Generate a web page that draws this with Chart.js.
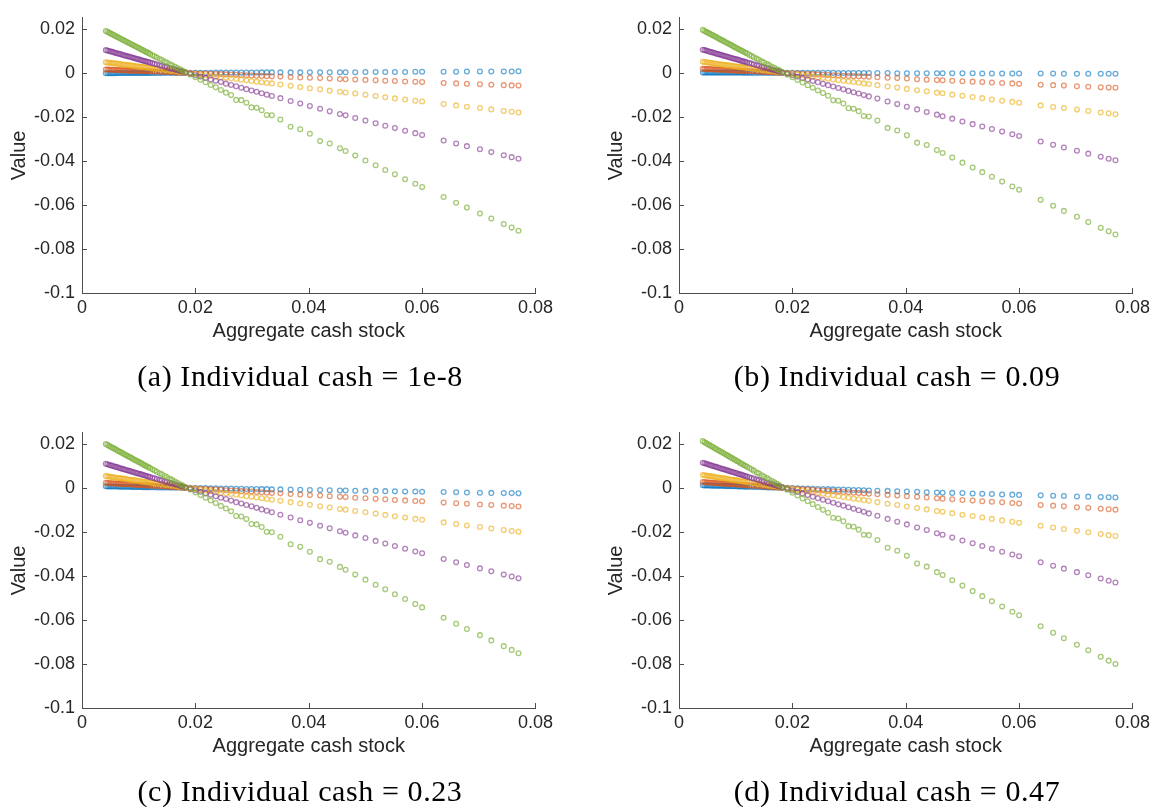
<!DOCTYPE html>
<html>
<head>
<meta charset="utf-8">
<script src="https://cdn.jsdelivr.net/npm/chart.js@4.4.1/dist/chart.umd.min.js"></script>
<style>
  html, body { margin: 0; padding: 0; background: #fff; overflow: hidden; }
  #page { position: relative; width: 1154px; height: 807px; }
  canvas { position: absolute; }
  .caption {
    position: absolute; width: 500px; text-align: center; white-space: nowrap;
    font: 30px/30px "Liberation Serif", "Times New Roman", serif; letter-spacing: 0.6px; color: #000;
  }
</style>
</head>
<body>
<div id="page">
  <canvas id="chartA" width="557" height="360" style="left:0;top:0"></canvas>
  <canvas id="chartB" width="557" height="360" style="left:597px;top:0"></canvas>
  <canvas id="chartC" width="557" height="360" style="left:0;top:415px"></canvas>
  <canvas id="chartD" width="557" height="360" style="left:597px;top:415px"></canvas>
  <div class="caption" style="left:50px;top:361px">(a) Individual cash = 1e-8</div>
  <div class="caption" style="left:647px;top:361px">(b) Individual cash = 0.09</div>
  <div class="caption" style="left:50px;top:776px">(c) Individual cash = 0.23</div>
  <div class="caption" style="left:647px;top:776px">(d) Individual cash = 0.47</div>
</div>
<script>
// aggregate cash stock grid (same for every panel)
const cashStock = [
  0.0042, 0.0045, 0.0048, 0.0051, 0.0054, 0.0057, 0.0060, 0.0063, 0.0066, 0.0069, 0.0072, 0.0075, 0.0078, 0.0081,
  0.0084, 0.0087, 0.0090, 0.0093, 0.0096, 0.0099, 0.0102, 0.0105, 0.0108, 0.0111, 0.0114, 0.0117, 0.0120, 0.0124,
  0.0128, 0.0132, 0.0137, 0.0141, 0.0146, 0.0150, 0.0155, 0.0159, 0.0164, 0.0168, 0.0173, 0.0177,
  0.0182, 0.0191, 0.0200, 0.0209, 0.0218, 0.0227, 0.0236, 0.0245,
  0.0254, 0.0263, 0.0272, 0.0281, 0.0290, 0.0299, 0.0308, 0.0317, 0.0326, 0.0335,
  0.0350, 0.0368, 0.0385, 0.0402, 0.0420, 0.0437, 0.0455, 0.0465, 0.0482, 0.0500, 0.0518, 0.0535, 0.0552, 0.0570, 0.0588, 0.0600,
  0.0638, 0.0660, 0.0679, 0.0702, 0.0722, 0.0744, 0.0758, 0.0770
];

const xTicks = [0, 0.02, 0.04, 0.06, 0.08];
const xTickLabels = ['0', '0.02', '0.04', '0.06', '0.08'];
const yTicks = [-0.1, -0.08, -0.06, -0.04, -0.02, 0, 0.02];
const yTickLabels = ['-0.1', '-0.08', '-0.06', '-0.04', '-0.02', '0', '0.02'];

// (a) individual cash = 1e-8
const blueA = [
  -0.0002, -0.0002, -0.0002, -0.0002, -0.0002, -0.0002, -0.0002, -0.0001, -0.0001, -0.0001, -0.0001, -0.0001, -0.0001, -0.0001,
  -0.0001, -0.0001, -0.0001, -0.0001, -0.0001, -0.0001, -0.0001, -0.0001, -0.0001, -0.0001, -0.0001, -0.0001, -0.0001, -0.0001,
  -0.0001, -0.0001, -0.0001, -0.0001, 0.0000, 0.0000, 0.0000, 0.0000, 0.0000, 0.0000, 0.0000, 0.0000,
  0.0000, 0.0000, 0.0000, 0.0000, 0.0000, 0.0000, 0.0001, 0.0001,
  0.0001, 0.0001, 0.0001, 0.0001, 0.0001, 0.0001, 0.0001, 0.0002, 0.0002, 0.0002,
  0.0002, 0.0002, 0.0002, 0.0003, 0.0003, 0.0003, 0.0003, 0.0003, 0.0003, 0.0004, 0.0004, 0.0004, 0.0004, 0.0004, 0.0005, 0.0005,
  0.0005, 0.0005, 0.0006, 0.0006, 0.0006, 0.0006, 0.0006, 0.0007
];
const orangeA = [
  0.0015, 0.0015, 0.0015, 0.0014, 0.0014, 0.0014, 0.0013, 0.0013, 0.0013, 0.0012, 0.0012, 0.0012, 0.0011, 0.0011,
  0.0011, 0.0010, 0.0010, 0.0010, 0.0010, 0.0009, 0.0009, 0.0009, 0.0008, 0.0008, 0.0008, 0.0007, 0.0007, 0.0007,
  0.0006, 0.0006, 0.0005, 0.0005, 0.0004, 0.0004, 0.0003, 0.0003, 0.0002, 0.0002, 0.0001, 0.0001,
  0.0000, -0.0001, -0.0002, -0.0003, -0.0003, -0.0004, -0.0005, -0.0006,
  -0.0007, -0.0008, -0.0009, -0.0010, -0.0011, -0.0012, -0.0013, -0.0014, -0.0015, -0.0016,
  -0.0017, -0.0019, -0.0021, -0.0022, -0.0024, -0.0026, -0.0028, -0.0029, -0.0030, -0.0032, -0.0034, -0.0036, -0.0037, -0.0039, -0.0041, -0.0042,
  -0.0046, -0.0048, -0.0050, -0.0052, -0.0054, -0.0056, -0.0057, -0.0058
];
const yellowA = [
  0.0048, 0.0047, 0.0046, 0.0045, 0.0044, 0.0043, 0.0042, 0.0041, 0.0040, 0.0039, 0.0038, 0.0037, 0.0036, 0.0035,
  0.0034, 0.0033, 0.0032, 0.0031, 0.0030, 0.0029, 0.0028, 0.0027, 0.0026, 0.0025, 0.0024, 0.0023, 0.0022, 0.0020,
  0.0019, 0.0018, 0.0016, 0.0015, 0.0013, 0.0012, 0.0010, 0.0009, 0.0007, 0.0006, 0.0004, 0.0003,
  0.0001, -0.0002, -0.0005, -0.0008, -0.0011, -0.0014, -0.0017, -0.0020,
  -0.0022, -0.0025, -0.0028, -0.0031, -0.0034, -0.0037, -0.0040, -0.0043, -0.0046, -0.0048,
  -0.0053, -0.0059, -0.0064, -0.0070, -0.0075, -0.0081, -0.0086, -0.0089, -0.0094, -0.0100, -0.0105, -0.0111, -0.0116, -0.0121, -0.0127, -0.0130,
  -0.0142, -0.0148, -0.0154, -0.0160, -0.0166, -0.0173, -0.0177, -0.0180
];
const purpleA = [
  0.0103, 0.0101, 0.0099, 0.0097, 0.0095, 0.0092, 0.0090, 0.0088, 0.0086, 0.0084, 0.0081, 0.0079, 0.0077, 0.0075,
  0.0073, 0.0071, 0.0068, 0.0066, 0.0064, 0.0062, 0.0060, 0.0057, 0.0055, 0.0053, 0.0051, 0.0049, 0.0047, 0.0044,
  0.0041, 0.0038, 0.0034, 0.0031, 0.0028, 0.0025, 0.0021, 0.0019, 0.0015, 0.0012, 0.0009, 0.0006,
  0.0002, -0.0004, -0.0011, -0.0017, -0.0023, -0.0030, -0.0036, -0.0042,
  -0.0049, -0.0055, -0.0061, -0.0068, -0.0074, -0.0080, -0.0086, -0.0093, -0.0099, -0.0105,
  -0.0115, -0.0128, -0.0139, -0.0151, -0.0163, -0.0175, -0.0187, -0.0193, -0.0205, -0.0217, -0.0229, -0.0240, -0.0251, -0.0263, -0.0274, -0.0282,
  -0.0307, -0.0321, -0.0333, -0.0347, -0.0360, -0.0374, -0.0383, -0.0390
];
const greenA = [
  0.0190, 0.0186, 0.0182, 0.0178, 0.0174, 0.0170, 0.0166, 0.0162, 0.0158, 0.0154, 0.0150, 0.0146, 0.0142, 0.0138,
  0.0134, 0.0130, 0.0126, 0.0122, 0.0118, 0.0114, 0.0110, 0.0106, 0.0102, 0.0098, 0.0094, 0.0090, 0.0086, 0.0080,
  0.0075, 0.0070, 0.0063, 0.0058, 0.0051, 0.0046, 0.0039, 0.0034, 0.0028, 0.0022, 0.0016, 0.0010,
  0.0004, -0.0008, -0.0020, -0.0031, -0.0043, -0.0055, -0.0066, -0.0078,
  -0.0090, -0.0101, -0.0123, -0.0124, -0.0136, -0.0157, -0.0159, -0.0170, -0.0192, -0.0193,
  -0.0212, -0.0245, -0.0256, -0.0277, -0.0310, -0.0321, -0.0343, -0.0355, -0.0376, -0.0398, -0.0420, -0.0441, -0.0461, -0.0483, -0.0504, -0.0519,
  -0.0564, -0.0590, -0.0612, -0.0639, -0.0662, -0.0687, -0.0703, -0.0717
];

// (b) individual cash = 0.09
const blueB = [
  0.0001, 0.0001, 0.0001, 0.0001, 0.0001, 0.0001, 0.0001, 0.0001, 0.0001, 0.0001, 0.0001, 0.0001, 0.0001, 0.0001,
  0.0001, 0.0001, 0.0001, 0.0001, 0.0001, 0.0001, 0.0001, 0.0001, 0.0001, 0.0001, 0.0000, 0.0001, 0.0000, 0.0000,
  0.0000, 0.0000, 0.0000, 0.0000, 0.0000, 0.0000, 0.0000, 0.0000, 0.0000, 0.0000, 0.0000, 0.0000,
  0.0000, 0.0000, 0.0000, 0.0000, 0.0000, 0.0000, 0.0000, 0.0000,
  0.0000, 0.0000, 0.0000, -0.0001, -0.0001, -0.0001, -0.0001, -0.0001, -0.0001, -0.0001,
  -0.0001, -0.0001, -0.0002, -0.0002, -0.0002, -0.0002, -0.0002, -0.0002, -0.0002, -0.0002, -0.0002, -0.0003, -0.0003, -0.0003, -0.0003, -0.0003,
  -0.0003, -0.0003, -0.0004, -0.0004, -0.0004, -0.0004, -0.0004, -0.0004
];
const orangeB = [
  0.0018, 0.0018, 0.0017, 0.0017, 0.0017, 0.0016, 0.0016, 0.0015, 0.0015, 0.0015, 0.0014, 0.0014, 0.0014, 0.0013,
  0.0013, 0.0012, 0.0012, 0.0012, 0.0011, 0.0011, 0.0010, 0.0010, 0.0010, 0.0009, 0.0009, 0.0009, 0.0008, 0.0008,
  0.0007, 0.0007, 0.0006, 0.0006, 0.0005, 0.0004, 0.0004, 0.0003, 0.0003, 0.0002, 0.0002, 0.0001,
  0.0000, -0.0001, -0.0002, -0.0003, -0.0004, -0.0005, -0.0006, -0.0007,
  -0.0009, -0.0010, -0.0011, -0.0012, -0.0013, -0.0014, -0.0015, -0.0016, -0.0017, -0.0018,
  -0.0020, -0.0022, -0.0024, -0.0026, -0.0029, -0.0031, -0.0033, -0.0034, -0.0036, -0.0038, -0.0040, -0.0042, -0.0044, -0.0046, -0.0048, -0.0050,
  -0.0054, -0.0056, -0.0058, -0.0061, -0.0063, -0.0066, -0.0067, -0.0068
];
const yellowB = [
  0.0050, 0.0049, 0.0048, 0.0047, 0.0046, 0.0045, 0.0043, 0.0042, 0.0041, 0.0040, 0.0039, 0.0038, 0.0037, 0.0036,
  0.0035, 0.0034, 0.0033, 0.0032, 0.0031, 0.0030, 0.0029, 0.0028, 0.0027, 0.0026, 0.0025, 0.0023, 0.0022, 0.0021,
  0.0020, 0.0018, 0.0017, 0.0015, 0.0013, 0.0012, 0.0010, 0.0009, 0.0007, 0.0006, 0.0004, 0.0003,
  0.0001, -0.0002, -0.0005, -0.0008, -0.0011, -0.0014, -0.0017, -0.0020,
  -0.0023, -0.0027, -0.0030, -0.0033, -0.0036, -0.0039, -0.0042, -0.0045, -0.0048, -0.0051,
  -0.0056, -0.0062, -0.0067, -0.0073, -0.0079, -0.0084, -0.0090, -0.0093, -0.0099, -0.0104, -0.0110, -0.0115, -0.0121, -0.0127, -0.0132, -0.0136,
  -0.0148, -0.0155, -0.0160, -0.0167, -0.0173, -0.0180, -0.0184, -0.0188
];
const purpleB = [
  0.0105, 0.0103, 0.0101, 0.0099, 0.0096, 0.0094, 0.0092, 0.0090, 0.0087, 0.0085, 0.0083, 0.0081, 0.0078, 0.0076,
  0.0074, 0.0072, 0.0070, 0.0067, 0.0065, 0.0063, 0.0061, 0.0059, 0.0056, 0.0054, 0.0052, 0.0050, 0.0047, 0.0045,
  0.0042, 0.0039, 0.0035, 0.0032, 0.0028, 0.0025, 0.0022, 0.0019, 0.0015, 0.0012, 0.0009, 0.0006,
  0.0002, -0.0004, -0.0011, -0.0017, -0.0024, -0.0030, -0.0037, -0.0043,
  -0.0050, -0.0056, -0.0062, -0.0069, -0.0075, -0.0082, -0.0088, -0.0094, -0.0101, -0.0107,
  -0.0117, -0.0130, -0.0142, -0.0154, -0.0166, -0.0178, -0.0190, -0.0197, -0.0208, -0.0221, -0.0233, -0.0244, -0.0255, -0.0267, -0.0279, -0.0287,
  -0.0312, -0.0327, -0.0339, -0.0354, -0.0367, -0.0381, -0.0390, -0.0397
];
const greenB = [
  0.0195, 0.0190, 0.0186, 0.0182, 0.0178, 0.0174, 0.0170, 0.0166, 0.0162, 0.0157, 0.0153, 0.0149, 0.0145, 0.0141,
  0.0137, 0.0133, 0.0129, 0.0125, 0.0120, 0.0116, 0.0112, 0.0108, 0.0104, 0.0100, 0.0096, 0.0092, 0.0088, 0.0082,
  0.0077, 0.0071, 0.0065, 0.0059, 0.0052, 0.0047, 0.0040, 0.0035, 0.0028, 0.0023, 0.0016, 0.0011,
  0.0004, -0.0008, -0.0020, -0.0032, -0.0044, -0.0056, -0.0068, -0.0080,
  -0.0092, -0.0104, -0.0125, -0.0127, -0.0139, -0.0161, -0.0163, -0.0174, -0.0196, -0.0198,
  -0.0217, -0.0250, -0.0262, -0.0284, -0.0317, -0.0328, -0.0351, -0.0364, -0.0385, -0.0408, -0.0430, -0.0451, -0.0472, -0.0494, -0.0516, -0.0531,
  -0.0577, -0.0604, -0.0627, -0.0654, -0.0678, -0.0704, -0.0720, -0.0734
];

// (c) individual cash = 0.23
const blueC = [
  0.0007, 0.0006, 0.0006, 0.0006, 0.0006, 0.0006, 0.0006, 0.0006, 0.0005, 0.0005, 0.0005, 0.0005, 0.0005, 0.0005,
  0.0005, 0.0004, 0.0004, 0.0004, 0.0004, 0.0004, 0.0004, 0.0004, 0.0003, 0.0003, 0.0003, 0.0003, 0.0003, 0.0003,
  0.0003, 0.0002, 0.0002, 0.0002, 0.0002, 0.0002, 0.0001, 0.0001, 0.0001, 0.0001, 0.0001, 0.0000,
  0.0000, 0.0000, -0.0001, -0.0001, -0.0001, -0.0002, -0.0002, -0.0003,
  -0.0003, -0.0003, -0.0004, -0.0004, -0.0005, -0.0005, -0.0005, -0.0006, -0.0006, -0.0007,
  -0.0007, -0.0008, -0.0009, -0.0010, -0.0010, -0.0011, -0.0012, -0.0012, -0.0013, -0.0014, -0.0014, -0.0015, -0.0016, -0.0017, -0.0017, -0.0018,
  -0.0019, -0.0020, -0.0021, -0.0022, -0.0023, -0.0024, -0.0024, -0.0025
];
const orangeC = [
  0.0023, 0.0022, 0.0022, 0.0021, 0.0021, 0.0020, 0.0020, 0.0019, 0.0019, 0.0018, 0.0018, 0.0017, 0.0017, 0.0016,
  0.0016, 0.0015, 0.0015, 0.0014, 0.0014, 0.0013, 0.0013, 0.0013, 0.0012, 0.0012, 0.0011, 0.0011, 0.0010, 0.0010,
  0.0009, 0.0008, 0.0007, 0.0007, 0.0006, 0.0005, 0.0005, 0.0004, 0.0003, 0.0003, 0.0002, 0.0001,
  0.0000, -0.0001, -0.0002, -0.0004, -0.0005, -0.0006, -0.0008, -0.0009,
  -0.0011, -0.0012, -0.0013, -0.0015, -0.0016, -0.0017, -0.0019, -0.0020, -0.0022, -0.0023,
  -0.0025, -0.0028, -0.0030, -0.0033, -0.0035, -0.0038, -0.0041, -0.0042, -0.0045, -0.0047, -0.0050, -0.0052, -0.0055, -0.0057, -0.0060, -0.0061,
  -0.0067, -0.0070, -0.0072, -0.0076, -0.0078, -0.0081, -0.0083, -0.0085
];
const yellowC = [
  0.0053, 0.0052, 0.0051, 0.0050, 0.0048, 0.0047, 0.0046, 0.0045, 0.0044, 0.0043, 0.0042, 0.0041, 0.0040, 0.0038,
  0.0037, 0.0036, 0.0035, 0.0034, 0.0033, 0.0032, 0.0031, 0.0029, 0.0028, 0.0027, 0.0026, 0.0025, 0.0024, 0.0022,
  0.0021, 0.0019, 0.0018, 0.0016, 0.0014, 0.0013, 0.0011, 0.0010, 0.0008, 0.0006, 0.0004, 0.0003,
  0.0001, -0.0002, -0.0005, -0.0009, -0.0012, -0.0015, -0.0019, -0.0022,
  -0.0025, -0.0028, -0.0031, -0.0035, -0.0038, -0.0041, -0.0044, -0.0047, -0.0051, -0.0054,
  -0.0059, -0.0065, -0.0071, -0.0077, -0.0084, -0.0089, -0.0096, -0.0099, -0.0105, -0.0111, -0.0117, -0.0123, -0.0129, -0.0135, -0.0141, -0.0145,
  -0.0157, -0.0164, -0.0171, -0.0178, -0.0185, -0.0192, -0.0196, -0.0200
];
const purpleC = [
  0.0109, 0.0107, 0.0104, 0.0102, 0.0100, 0.0097, 0.0095, 0.0093, 0.0090, 0.0088, 0.0086, 0.0083, 0.0081, 0.0079,
  0.0077, 0.0074, 0.0072, 0.0070, 0.0067, 0.0065, 0.0063, 0.0061, 0.0058, 0.0056, 0.0054, 0.0051, 0.0049, 0.0046,
  0.0043, 0.0040, 0.0036, 0.0033, 0.0029, 0.0026, 0.0023, 0.0020, 0.0016, 0.0013, 0.0009, 0.0006,
  0.0002, -0.0005, -0.0011, -0.0018, -0.0025, -0.0031, -0.0038, -0.0045,
  -0.0051, -0.0058, -0.0065, -0.0071, -0.0078, -0.0084, -0.0091, -0.0098, -0.0104, -0.0111,
  -0.0122, -0.0135, -0.0147, -0.0159, -0.0172, -0.0184, -0.0197, -0.0204, -0.0216, -0.0228, -0.0241, -0.0253, -0.0264, -0.0277, -0.0289, -0.0297,
  -0.0323, -0.0338, -0.0351, -0.0366, -0.0379, -0.0394, -0.0403, -0.0411
];
const greenC = [
  0.0199, 0.0195, 0.0190, 0.0186, 0.0182, 0.0178, 0.0174, 0.0169, 0.0165, 0.0161, 0.0157, 0.0152, 0.0148, 0.0144,
  0.0140, 0.0136, 0.0131, 0.0127, 0.0123, 0.0119, 0.0115, 0.0111, 0.0106, 0.0102, 0.0098, 0.0094, 0.0090, 0.0084,
  0.0079, 0.0073, 0.0066, 0.0061, 0.0054, 0.0048, 0.0041, 0.0036, 0.0029, 0.0023, 0.0016, 0.0011,
  0.0004, -0.0008, -0.0021, -0.0033, -0.0045, -0.0057, -0.0069, -0.0082,
  -0.0094, -0.0106, -0.0128, -0.0130, -0.0142, -0.0164, -0.0166, -0.0178, -0.0200, -0.0202,
  -0.0222, -0.0256, -0.0268, -0.0290, -0.0324, -0.0336, -0.0359, -0.0372, -0.0394, -0.0417, -0.0440, -0.0461, -0.0483, -0.0505, -0.0528, -0.0543,
  -0.0590, -0.0617, -0.0641, -0.0669, -0.0693, -0.0719, -0.0736, -0.0751
];

// (d) individual cash = 0.47
const blueD = [
  0.0012, 0.0011, 0.0011, 0.0011, 0.0011, 0.0010, 0.0010, 0.0010, 0.0010, 0.0009, 0.0009, 0.0009, 0.0009, 0.0008,
  0.0008, 0.0008, 0.0008, 0.0007, 0.0007, 0.0007, 0.0007, 0.0006, 0.0006, 0.0006, 0.0006, 0.0005, 0.0005, 0.0005,
  0.0005, 0.0004, 0.0004, 0.0004, 0.0003, 0.0003, 0.0002, 0.0002, 0.0002, 0.0001, 0.0001, 0.0001,
  0.0000, 0.0000, -0.0001, -0.0002, -0.0003, -0.0003, -0.0004, -0.0005,
  -0.0005, -0.0006, -0.0007, -0.0008, -0.0008, -0.0009, -0.0010, -0.0010, -0.0011, -0.0012,
  -0.0013, -0.0014, -0.0016, -0.0017, -0.0018, -0.0020, -0.0021, -0.0022, -0.0023, -0.0024, -0.0026, -0.0027, -0.0028, -0.0030, -0.0031, -0.0032,
  -0.0034, -0.0036, -0.0037, -0.0039, -0.0040, -0.0042, -0.0043, -0.0044
];
const orangeD = [
  0.0026, 0.0026, 0.0025, 0.0024, 0.0024, 0.0023, 0.0023, 0.0022, 0.0022, 0.0021, 0.0021, 0.0020, 0.0019, 0.0019,
  0.0018, 0.0018, 0.0017, 0.0017, 0.0016, 0.0016, 0.0015, 0.0015, 0.0014, 0.0013, 0.0013, 0.0012, 0.0012, 0.0011,
  0.0010, 0.0010, 0.0009, 0.0008, 0.0007, 0.0006, 0.0005, 0.0005, 0.0004, 0.0003, 0.0002, 0.0001,
  0.0001, -0.0001, -0.0003, -0.0004, -0.0006, -0.0008, -0.0009, -0.0011,
  -0.0012, -0.0014, -0.0016, -0.0017, -0.0019, -0.0020, -0.0022, -0.0023, -0.0025, -0.0027,
  -0.0029, -0.0032, -0.0035, -0.0038, -0.0041, -0.0044, -0.0047, -0.0049, -0.0052, -0.0055, -0.0058, -0.0061, -0.0063, -0.0066, -0.0069, -0.0071,
  -0.0078, -0.0081, -0.0084, -0.0088, -0.0091, -0.0095, -0.0097, -0.0099
];
const yellowD = [
  0.0058, 0.0057, 0.0056, 0.0054, 0.0053, 0.0052, 0.0051, 0.0049, 0.0048, 0.0047, 0.0046, 0.0045, 0.0043, 0.0042,
  0.0041, 0.0040, 0.0038, 0.0037, 0.0036, 0.0035, 0.0034, 0.0032, 0.0031, 0.0030, 0.0029, 0.0027, 0.0026, 0.0025,
  0.0023, 0.0021, 0.0019, 0.0018, 0.0016, 0.0014, 0.0012, 0.0010, 0.0008, 0.0007, 0.0005, 0.0003,
  0.0001, -0.0002, -0.0006, -0.0010, -0.0013, -0.0017, -0.0020, -0.0024,
  -0.0027, -0.0031, -0.0034, -0.0038, -0.0042, -0.0045, -0.0049, -0.0052, -0.0056, -0.0059,
  -0.0065, -0.0072, -0.0078, -0.0085, -0.0092, -0.0098, -0.0105, -0.0109, -0.0115, -0.0122, -0.0128, -0.0135, -0.0141, -0.0148, -0.0154, -0.0159,
  -0.0172, -0.0180, -0.0187, -0.0195, -0.0202, -0.0210, -0.0215, -0.0219
];
const purpleD = [
  0.0114, 0.0112, 0.0109, 0.0107, 0.0104, 0.0102, 0.0099, 0.0097, 0.0095, 0.0092, 0.0090, 0.0087, 0.0085, 0.0083,
  0.0080, 0.0078, 0.0075, 0.0073, 0.0071, 0.0068, 0.0066, 0.0063, 0.0061, 0.0059, 0.0056, 0.0054, 0.0051, 0.0048,
  0.0045, 0.0042, 0.0038, 0.0035, 0.0031, 0.0028, 0.0024, 0.0020, 0.0017, 0.0013, 0.0009, 0.0006,
  0.0002, -0.0005, -0.0012, -0.0019, -0.0026, -0.0033, -0.0040, -0.0047,
  -0.0054, -0.0061, -0.0068, -0.0075, -0.0081, -0.0088, -0.0095, -0.0102, -0.0109, -0.0116,
  -0.0127, -0.0141, -0.0154, -0.0166, -0.0180, -0.0192, -0.0206, -0.0213, -0.0226, -0.0239, -0.0252, -0.0264, -0.0277, -0.0290, -0.0303, -0.0311,
  -0.0338, -0.0354, -0.0367, -0.0383, -0.0397, -0.0412, -0.0422, -0.0430
];
const greenD = [
  0.0212, 0.0207, 0.0203, 0.0198, 0.0194, 0.0189, 0.0185, 0.0180, 0.0176, 0.0171, 0.0167, 0.0163, 0.0158, 0.0154,
  0.0149, 0.0145, 0.0140, 0.0136, 0.0131, 0.0127, 0.0122, 0.0118, 0.0113, 0.0109, 0.0104, 0.0100, 0.0096, 0.0090,
  0.0084, 0.0078, 0.0070, 0.0065, 0.0057, 0.0051, 0.0044, 0.0038, 0.0031, 0.0025, 0.0018, 0.0012,
  0.0004, -0.0009, -0.0022, -0.0035, -0.0048, -0.0061, -0.0074, -0.0087,
  -0.0100, -0.0113, -0.0136, -0.0139, -0.0152, -0.0174, -0.0177, -0.0190, -0.0213, -0.0215,
  -0.0237, -0.0272, -0.0286, -0.0309, -0.0344, -0.0358, -0.0383, -0.0396, -0.0420, -0.0444, -0.0469, -0.0492, -0.0515, -0.0539, -0.0563, -0.0579,
  -0.0629, -0.0658, -0.0683, -0.0713, -0.0738, -0.0767, -0.0785, -0.0800
];

const seriesColors = [
  'rgba(0,114,189,0.6)',   // blue
  'rgba(217,83,25,0.6)',   // orange
  'rgba(237,177,32,0.65)', // yellow
  'rgba(126,47,142,0.6)',  // purple
  'rgba(119,172,48,0.65)'  // green
];
const axisColor = '#4d4d4d';
const textColor = '#262626';
const sansFont = '"Liberation Sans", Arial, Helvetica, sans-serif';

// MATLAB style ticks pointing into the plot
const inwardTicks = {
  id: 'inwardTicks',
  afterDraw(chart) {
    const { ctx, chartArea, scales } = chart;
    ctx.save();
    ctx.strokeStyle = axisColor;
    ctx.lineWidth = 1;
    ctx.beginPath();
    xTicks.forEach(v => {
      const px = Math.round(scales.x.getPixelForValue(v)) + 0.5;
      ctx.moveTo(px, chartArea.bottom);
      ctx.lineTo(px, chartArea.bottom - 5);
    });
    yTicks.forEach(v => {
      const py = Math.round(scales.y.getPixelForValue(v)) + 0.5;
      ctx.moveTo(chartArea.left, py);
      ctx.lineTo(chartArea.left + 5, py);
    });
    ctx.stroke();
    ctx.restore();
  }
};

function makePanel(id, series) {
  const datasets = series.map((ys, i) => ({
    data: cashStock.map((x, j) => ({ x: x, y: ys[j] })),
    borderColor: seriesColors[i],
    backgroundColor: 'rgba(0,0,0,0)',
    pointRadius: 2.4,
    pointBorderWidth: 1.3,
    order: series.length - 1 - i   // green ends up on top
  }));

  new Chart(document.getElementById(id).getContext('2d'), {
    type: 'scatter',
    data: { datasets: datasets },
    options: {
      responsive: false,
      animation: false,
      devicePixelRatio: 1,
      events: [],
      layout: { padding: { top: 11, right: 20, left: 0, bottom: 0 } },
      plugins: { legend: { display: false }, tooltip: { enabled: false } },
      scales: {
        x: {
          type: 'linear', position: 'bottom', min: 0, max: 0.08,
          afterFit: s => { s.height = 67; },
          afterBuildTicks: s => { s.ticks = xTicks.map(v => ({ value: v })); },
          ticks: {
            callback: (v, i) => xTickLabels[i],
            color: textColor, font: { family: sansFont, size: 18 },
            padding: 4, maxRotation: 0, autoSkip: false
          },
          grid: { drawOnChartArea: false, drawTicks: false },
          border: { color: axisColor, width: 1 },
          title: {
            display: true, text: 'Aggregate cash stock', color: textColor,
            font: { family: sansFont, size: 20 }, padding: { top: 0, bottom: 17 }
          }
        },
        y: {
          type: 'linear', min: -0.1, max: 0.025,
          afterFit: s => { s.width = 82; },
          afterBuildTicks: s => { s.ticks = yTicks.map(v => ({ value: v })); },
          ticks: {
            callback: (v, i) => yTickLabels[i],
            color: textColor, font: { family: sansFont, size: 18 },
            padding: 7, autoSkip: false
          },
          grid: { drawOnChartArea: false, drawTicks: false },
          border: { color: axisColor, width: 1 },
          title: {
            display: true, text: 'Value', color: textColor,
            font: { family: sansFont, size: 20 }, padding: { top: 7, bottom: 0 }
          }
        }
      }
    },
    plugins: [inwardTicks]
  });
}

makePanel('chartA', [blueA, orangeA, yellowA, purpleA, greenA]);
makePanel('chartB', [blueB, orangeB, yellowB, purpleB, greenB]);
makePanel('chartC', [blueC, orangeC, yellowC, purpleC, greenC]);
makePanel('chartD', [blueD, orangeD, yellowD, purpleD, greenD]);
</script>
</body>
</html>
